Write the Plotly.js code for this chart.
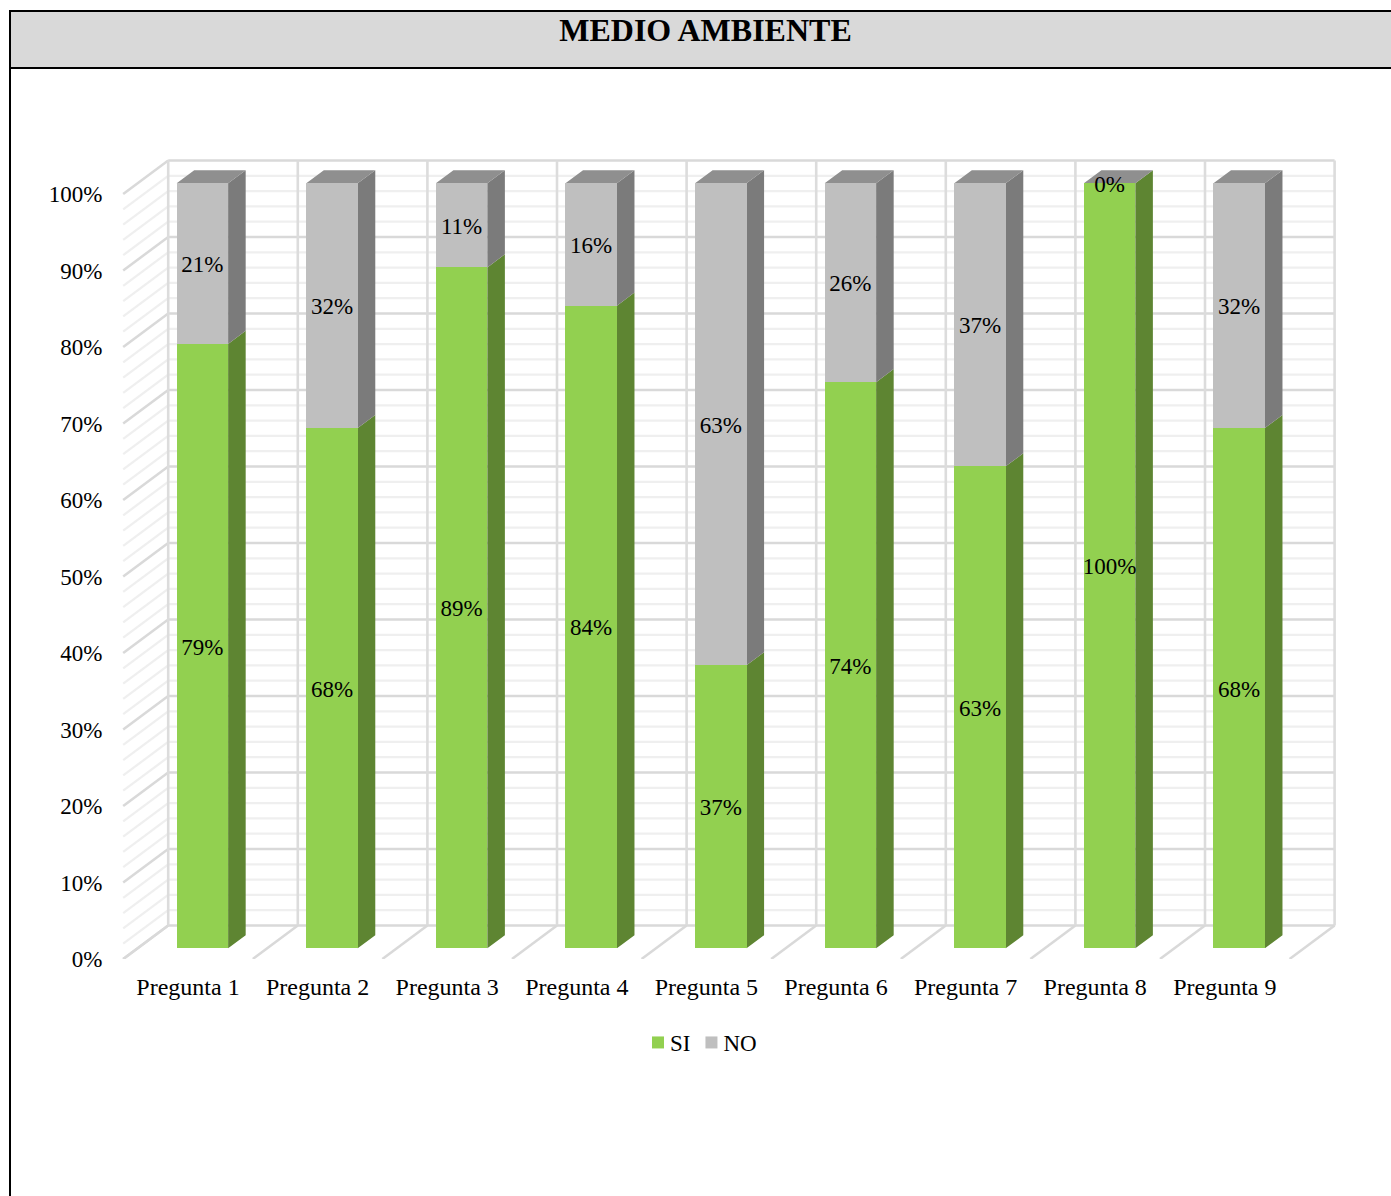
<!DOCTYPE html>
<html>
<head>
<meta charset="utf-8">
<script src="https://cdn.plot.ly/plotly-3.0.1.min.js"></script>
<style>html,body{margin:0;padding:0;background:#fff;overflow:hidden}</style>
</head>
<body>
<div id="chart" style="width:1391px;height:1196px"></div>
<script>
// Survey answers per question, in percent
const categories = ['Pregunta 1','Pregunta 2','Pregunta 3','Pregunta 4','Pregunta 5','Pregunta 6','Pregunta 7','Pregunta 8','Pregunta 9'];
const siValues = [79, 68, 89, 84, 37, 74, 63, 100, 68];
const noValues = [21, 32, 11, 16, 63, 26, 37, 0, 32];
const yTickValues = [0,10,20,30,40,50,60,70,80,90,100];
const yTickLabels = yTickValues.map(v => v + '%');
const gridValues = [0,2,4,6,8,10,12,14,16,18,20,22,24,26,28,30,32,34,36,38,40,42,44,46,48,50,52,54,56,58,60,62,64,66,68,70,72,74,76,78,80,82,84,86,88,90,92,94,96,98,100];

const W = 1391, H = 1196;
const FONT = '"Liberation Serif", "Times New Roman", serif';

// Pixel metrics of the plot frame
const cellPx = 129.6, pctPx = 7.65;
const originX = 188, originY = 959;
const plotLeft = 114, plotRight = 1360, plotTop = 150;

// Oblique projection: depth 0 is the front of the floor, depth 1 the back wall
const depthX = 45 / cellPx, depthY = 33.5 / pctPx;
const barFront = 0.32, barBack = 0.71, barHalf = 0.1985;
const project = (u, v, d) => [u + d * depthX, v + d * depthY];

const rangeX = [(plotLeft - originX) / cellPx, (plotRight - originX) / cellPx];
const rangeY = [0, (originY - plotTop) / pctPx];

// Collects segments into one line trace, separated by gaps
function lineTrace(segments, color, width) {
  const x = [], y = [];
  segments.forEach(seg => {
    seg.forEach(p => { x.push(p[0]); y.push(p[1]); });
    x.push(null); y.push(null);
  });
  return {type:'scatter', mode:'lines', x, y, xaxis:'x', yaxis:'y', showlegend:false, hoverinfo:'skip',
          line:{color, width}};
}

// Collects polygons into one filled trace
function faceTrace(polys, color) {
  const x = [], y = [];
  polys.forEach(poly => {
    poly.concat([poly[0]]).forEach(p => { x.push(p[0]); y.push(p[1]); });
    x.push(null); y.push(null);
  });
  return {type:'scatter', mode:'lines', x, y, xaxis:'x', yaxis:'y', fill:'toself', fillcolor:color,
          showlegend:false, hoverinfo:'skip', line:{width:0, color:color}};
}

const lastEdge = categories.length - 0.5;
const minorVals = gridValues.filter(v => v % 10 !== 0);
const majorVals = gridValues.filter(v => v % 10 === 0);
const wallSegments = vals => vals.flatMap(v => [
  [project(-0.5, v, 0), project(-0.5, v, 1)],
  [project(-0.5, v, 1), project(lastEdge, v, 1)]
]);

const verticals = [], floorLines = [];
for (let k = 0; k <= categories.length; k++) {
  verticals.push([project(k - 0.5, 0, 1), project(k - 0.5, 100, 1)]);
  floorLines.push([project(k - 0.5, 0, 0), project(k - 0.5, 0, 1)]);
}

// Side and top faces of each column
const sideFace = (i, from, to) => [
  project(i + barHalf, from, barFront), project(i + barHalf, to, barFront),
  project(i + barHalf, to, barBack), project(i + barHalf, from, barBack)
];
const topFace = (i, v) => [
  project(i - barHalf, v, barFront), project(i + barHalf, v, barFront),
  project(i + barHalf, v, barBack), project(i - barHalf, v, barBack)
];
const greenSides = siValues.map((v, i) => sideFace(i, 0, v));
const greySides = siValues.map((v, i) => sideFace(i, v, v + noValues[i]));
const tops = siValues.map((v, i) => topFace(i, v + noValues[i]));

// Value labels sit a little below the middle of their segment
const labelDrop = 0.35;

const traces = [
  lineTrace(wallSegments(minorVals), '#efefef', 2.2),
  lineTrace(wallSegments(majorVals), '#d9d9d9', 2.5),
  lineTrace(verticals, '#dcdcdc', 2.6),
  lineTrace(floorLines, '#d9d9d9', 2.5),
  faceTrace(greenSides, '#5e8532'),
  faceTrace(greySides, '#7b7b7b'),
  faceTrace(tops, '#8f8f8f'),
  {type:'bar', name:'SI', x:categories, y:siValues, width:2*barHalf, xaxis:'x2', yaxis:'y2',
   marker:{color:'#92d050', line:{width:0}}, hoverinfo:'skip'},
  {type:'bar', name:'NO', x:categories, y:noValues, width:2*barHalf, xaxis:'x2', yaxis:'y2',
   marker:{color:'#bfbfbf', line:{width:0}}, hoverinfo:'skip'},
  {type:'scatter', mode:'text', x:categories, y:siValues.map(v => v / 2 - labelDrop), text:siValues.map(v => v + '%'),
   xaxis:'x2', yaxis:'y2', textposition:'middle center', textfont:{family:FONT, size:23, color:'#000'},
   showlegend:false, hoverinfo:'skip', cliponaxis:false},
  {type:'scatter', mode:'text', x:categories, y:noValues.map((v, i) => siValues[i] + v / 2 - labelDrop), text:noValues.map(v => v + '%'),
   xaxis:'x2', yaxis:'y2', textposition:'middle center', textfont:{family:FONT, size:23, color:'#000'},
   showlegend:false, hoverinfo:'skip', cliponaxis:false}
];

const layout = {
  width:W, height:H, autosize:false,
  margin:{l:0, r:0, t:0, b:0, pad:0},
  paper_bgcolor:'#fff', plot_bgcolor:'rgba(0,0,0,0)',
  barmode:'stack', bargap:0,
  font:{family:FONT, size:23, color:'#000'},
  title:{text:'<b>MEDIO AMBIENTE</b>', x:705.5/W, xref:'paper', xanchor:'center', y:1-30/H, yref:'paper', yanchor:'middle',
         font:{family:FONT, size:32, color:'#000'}},
  showlegend:true,
  legend:{orientation:'h', x:638/W, xanchor:'left', y:1-1042.5/H, yanchor:'middle', traceorder:'normal',
          font:{family:FONT, size:23, color:'#000'}, bgcolor:'rgba(0,0,0,0)', itemclick:false, itemdoubleclick:false},
  xaxis:{type:'linear', domain:[plotLeft/W, plotRight/W], range:rangeX, anchor:'y',
         tickmode:'array', tickvals:categories.map((c, i) => i), ticktext:categories,
         showgrid:false, zeroline:false, showline:false, ticks:'outside', ticklen:6, tickcolor:'rgba(0,0,0,0)',
         tickfont:{family:FONT, size:24, color:'#000'}},
  yaxis:{type:'linear', domain:[1-originY/H, 1-plotTop/H], range:rangeY, anchor:'x',
         tickmode:'array', tickvals:yTickValues, ticktext:yTickLabels,
         showgrid:false, zeroline:false, showline:false, ticks:'outside', ticklen:6, tickcolor:'rgba(0,0,0,0)',
         tickfont:{family:FONT, size:23, color:'#000'}},
  xaxis2:{type:'category', categoryarray:categories, categoryorder:'array', overlaying:'x', anchor:'y2', visible:false,
          domain:[plotLeft/W, plotRight/W], range:[rangeX[0] - barFront*depthX, rangeX[1] - barFront*depthX]},
  yaxis2:{type:'linear', overlaying:'y', anchor:'x2', visible:false,
          domain:[1-originY/H, 1-plotTop/H], range:[rangeY[0] - barFront*depthY, rangeY[1] - barFront*depthY]},
  shapes:[
    {type:'rect', xref:'paper', yref:'paper', x0:10/W, x1:1400/W, y0:1-68/H, y1:1-11/H, layer:'below',
     fillcolor:'#d9d9d9', line:{color:'#000', width:2}},
    {type:'line', xref:'paper', yref:'paper', x0:10/W, x1:10/W, y0:0, y1:1-11/H, layer:'below',
     line:{color:'#000', width:2}}
  ]
};

// Tightens the legend: swatch-to-label gap and the spacing between entries
const legendTextPull = 8, legendEntryPull = 12;
Plotly.newPlot('chart', traces, layout, {displayModeBar:false, responsive:false}).then(() => {
  document.querySelectorAll('#chart .legend .legendtext').forEach(t => {
    t.setAttribute('x', parseFloat(t.getAttribute('x')) - legendTextPull);
  });
  const entries = document.querySelectorAll('#chart .legend .traces');
  if (entries[1]) {
    const m = /translate\(([-\d.]+),\s*([-\d.]+)\)/.exec(entries[1].getAttribute('transform'));
    if (m) entries[1].setAttribute('transform', 'translate(' + (parseFloat(m[1]) - legendEntryPull) + ',' + m[2] + ')');
  }
});
</script>
</body>
</html>
